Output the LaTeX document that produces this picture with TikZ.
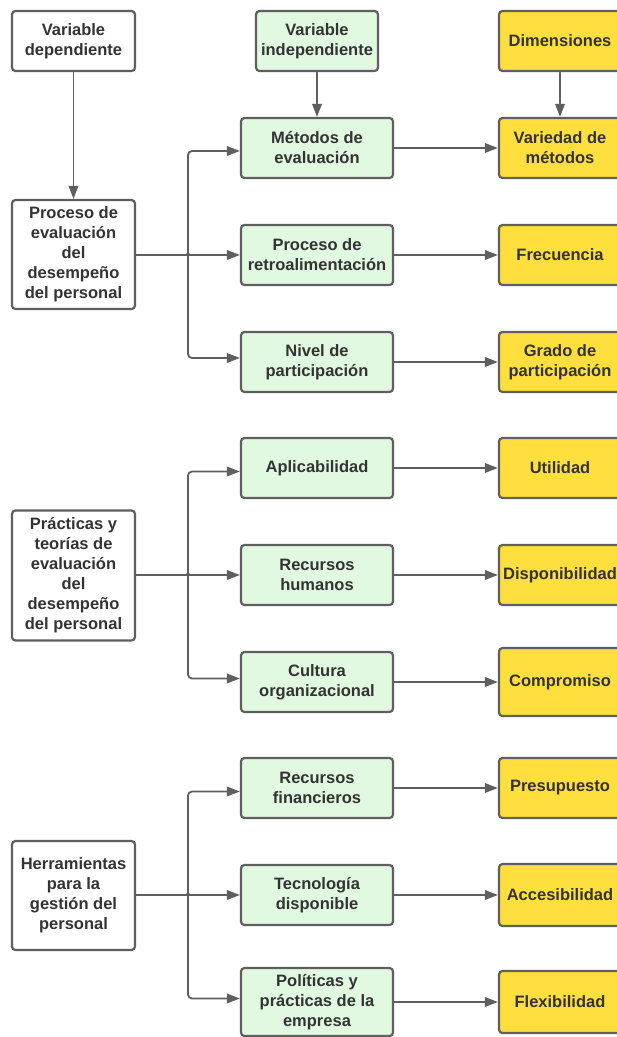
\documentclass[tikz,border=0pt]{standalone}
\usepackage{fontspec}
\setmainfont{Liberation Sans}
\usetikzlibrary{arrows.meta,calc}
\definecolor{bordc}{HTML}{5F5F5F}
\definecolor{greenf}{HTML}{E1F8E1}
\definecolor{yellowf}{HTML}{FFDF3D}
\definecolor{txtc}{HTML}{333333}
\begin{document}
\begin{tikzpicture}[x=1pt,y=-1pt,
  box/.style={draw=bordc, line width=2.2pt, rounded corners=3.5pt, align=center, inner sep=0pt, text=txtc, font=\fontsize{16.5}{20}\selectfont\bfseries, minimum height=60pt},
  lbox/.style={box, fill=white, minimum width=123pt},
  gbox/.style={box, fill=greenf, minimum width=152pt},
  ybox/.style={box, fill=yellowf, minimum width=122pt},
  conn/.style={draw=bordc, line width=1.8pt, -{Triangle[length=13pt,width=9.5pt]}, rounded corners=4pt},
  hop/.style={draw=bordc, line width=1.8pt, -{Triangle[length=13pt,width=9.5pt]}}
]
\fill[white] (0,0) rectangle (617,1037);
\useasboundingbox (0,0) rectangle (617,1037);

% headers
\node[lbox] (vd) at (73.5,41) {Variable\\dependiente};
\node[gbox, minimum width=122pt] (vi) at (317,41) {Variable\\independiente};
\node[ybox] (dim) at (560,41) {Dimensiones};

% left column
\node[lbox, minimum height=109pt] (p1) at (73.5,254.5) {Proceso de\\evaluación\\del\\desempeño\\del personal};
\node[lbox, minimum height=130pt] (p2) at (73.5,575.5) {Prácticas y\\teorías de\\evaluación\\del\\desempeño\\del personal};
\node[lbox, minimum height=109pt] (p3) at (73.5,895.5) {Herramientas\\para la\\gestión del\\personal};

% middle column
\node[gbox] (m1) at (317,148) {Métodos de\\evaluación};
\node[gbox] (m2) at (317,255) {Proceso de\\retroalimentación};
\node[gbox] (m3) at (317,362) {Nivel de\\participación};
\node[gbox] (m4) at (317,468) {Aplicabilidad};
\node[gbox] (m5) at (317,575) {Recursos\\humanos};
\node[gbox] (m6) at (317,682) {Cultura\\organizacional};
\node[gbox] (m7) at (317,788) {Recursos\\financieros};
\node[gbox] (m8) at (317,895) {Tecnología\\disponible};
\node[gbox, minimum height=68pt] (m9) at (317,1002) {Políticas y\\prácticas de la\\empresa};

% right column
\node[ybox] (y1) at (560,148) {Variedad de\\métodos};
\node[ybox] (y2) at (560,255) {Frecuencia};
\node[ybox] (y3) at (560,362) {Grado de\\participación};
\node[ybox] (y4) at (560,468) {Utilidad};
\node[ybox] (y5) at (560,575) {Disponibilidad};
\node[ybox, minimum height=68pt] (y6) at (560,682) {Compromiso};
\node[ybox] (y7) at (560,788) {Presupuesto};
\node[ybox, minimum height=62pt] (y8) at (560,895) {Accesibilidad};
\node[ybox, minimum height=62pt] (y9) at (560,1002) {Flexibilidad};

% vertical header arrows
\draw[conn] (vd.south) -- (p1.north);
\draw[conn] (vi.south) -- (m1.north);
\draw[conn] (dim.south) -- (y1.north);

% junction points
\coordinate (j1) at (188,255);
\coordinate (j2) at (188,575);
\coordinate (j3) at (188,895);

% section 1
\draw[hop] (p1.east|-j1) -- ($(j1)+(-1.5,0)$) arc (180:360:1.5) -- (m2.west);
\draw[conn] (j1) |- ($(m1.west)+(0,3)$);
\draw[conn] (j1) |- ($(m3.west)+(0,-4)$);
% section 2
\draw[hop] (p2.east|-j2) -- ($(j2)+(-1.5,0)$) arc (180:360:1.5) -- (m5.west);
\draw[conn] (j2) |- ($(m4.west)+(0,3.5)$);
\draw[conn] (j2) |- ($(m6.west)+(0,-3.5)$);
% section 3
\draw[hop] (p3.east|-j3) -- ($(j3)+(-1.5,0)$) arc (180:360:1.5) -- (m8.west);
\draw[conn] (j3) |- ($(m7.west)+(0,3.5)$);
\draw[conn] (j3) |- ($(m9.west)+(0,-3.5)$);

% middle to right
\draw[conn] (m1.east) -- (y1.west);
\draw[conn] (m2.east) -- (y2.west);
\draw[conn] (m3.east) -- (y3.west);
\draw[conn] (m4.east) -- (y4.west);
\draw[conn] (m5.east) -- (y5.west);
\draw[conn] (m6.east) -- (y6.west);
\draw[conn] (m7.east) -- (y7.west);
\draw[conn] (m8.east) -- (y8.west);
\draw[conn] (m9.east) -- (y9.west);
\end{tikzpicture}
\end{document}
